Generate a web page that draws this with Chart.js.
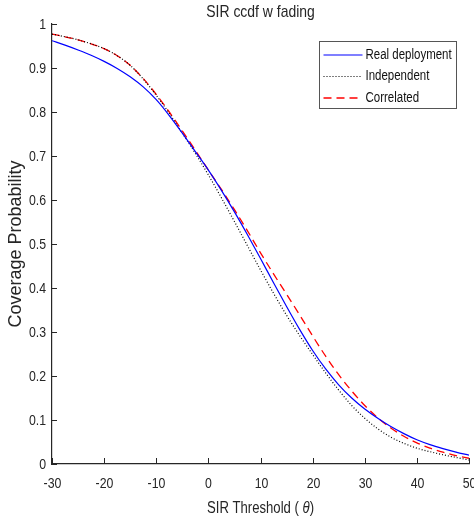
<!DOCTYPE html>
<html>
<head>
<meta charset="utf-8">
<title>SIR ccdf w fading</title>
<script src="https://cdn.jsdelivr.net/npm/chart.js@4.4.0/dist/chart.umd.min.js"></script>
<style>
    html, body { margin: 0; padding: 0; background: #fff; }
</style>
</head>
<body>
<canvas id="ccdfChart" width="474" height="525"></canvas>
<script>
// SIR threshold (dB) sample points
const thresholds = [
    -30, -27.5, -25, -22.5, -20, -17.5, -15, -12.5, -10, -7.5, -5, -2.5,
    0, 2.5, 5, 7.5, 10, 12.5, 15, 17.5, 20, 22.5, 25, 27.5,
    30, 32.5, 35, 37.5, 40, 42.5, 45, 47.5, 50
];

// Coverage probability for each model
const realDeployment = [
    0.962, 0.952, 0.941, 0.929, 0.915, 0.899, 0.880, 0.857, 0.828, 0.792, 0.752, 0.710,
    0.668, 0.622, 0.573, 0.521, 0.467, 0.412, 0.358, 0.306, 0.258, 0.216, 0.180, 0.150,
    0.125, 0.104, 0.085, 0.069, 0.055, 0.044, 0.035, 0.027, 0.020
];
const independent = [
    0.977, 0.971, 0.964, 0.955, 0.944, 0.928, 0.906, 0.875, 0.838, 0.797, 0.752, 0.706,
    0.657, 0.605, 0.551, 0.496, 0.441, 0.388, 0.338, 0.292, 0.249, 0.207, 0.168, 0.133,
    0.104, 0.080, 0.061, 0.047, 0.036, 0.028, 0.021, 0.015, 0.009
];
const correlated = [
    0.977, 0.971, 0.964, 0.955, 0.944, 0.928, 0.906, 0.876, 0.840, 0.800, 0.757, 0.713,
    0.668, 0.624, 0.578, 0.530, 0.480, 0.432, 0.386, 0.339, 0.291, 0.245, 0.203, 0.166,
    0.133, 0.105, 0.082, 0.063, 0.048, 0.036, 0.027, 0.019, 0.013
];

const seriesNames = ['Real deployment', 'Independent', 'Correlated'];
const xTicks = [-30, -20, -10, 0, 10, 20, 30, 40, 50];
const yTicks = [0, 0.1, 0.2, 0.3, 0.4, 0.5, 0.6, 0.7, 0.8, 0.9, 1];

const plainFont = "'Liberation Sans', Arial, sans-serif";
const inkColor = '#262626';
const squeeze = 0.82;   // horizontal text is drawn condensed

function toPoints(values) {
    return thresholds.map((x, i) => ({ x: x, y: values[i] }));
}

function narrowText(c, text, x, y, size, align, baseline, style) {
    c.save();
    c.font = (style ? style + ' ' : '') + size + 'px ' + plainFont;
    c.translate(x, y);
    c.scale(squeeze, 1);
    c.textAlign = align;
    c.textBaseline = baseline;
    c.fillText(text, 0, 0);
    c.restore();
}

function narrowWidth(c, text, size, style) {
    c.save();
    c.font = (style ? style + ' ' : '') + size + 'px ' + plainFont;
    const w = c.measureText(text).width * squeeze;
    c.restore();
    return w;
}

// title, tick labels, inward tick marks, x label with italic theta, boxed legend
const axisDecor = {
    id: 'axisDecor',
    afterDraw(chart) {
        const c = chart.ctx;
        const area = chart.chartArea;
        const xs = chart.scales.x;
        const ys = chart.scales.y;
        const midX = (area.left + area.right) / 2;

        c.save();
        c.fillStyle = inkColor;
        narrowText(c, 'SIR ccdf w fading', midX, 16.5, 17, 'center', 'alphabetic');

        c.strokeStyle = inkColor;
        c.lineWidth = 1;
        c.beginPath();
        xTicks.forEach(v => {
            const px = Math.round(xs.getPixelForValue(v)) + 0.5;
            c.moveTo(px, area.bottom);
            c.lineTo(px, area.bottom - 6);
            narrowText(c, String(v), px, area.bottom + 24, 15, 'center', 'alphabetic');
        });
        yTicks.forEach(v => {
            const py = Math.round(ys.getPixelForValue(v)) + 0.5;
            c.moveTo(area.left, py);
            c.lineTo(area.left + 5, py);
            narrowText(c, String(v), area.left - 6, py, 15, 'right', 'middle');
        });
        c.stroke();

        // x axis label
        const parts = [
            { text: 'SIR Threshold ( ', style: '' },
            { text: 'θ', style: 'italic' },
            { text: ')', style: '' }
        ];
        let total = 0;
        parts.forEach(p => { p.w = narrowWidth(c, p.text, 16, p.style); total += p.w; });
        let tx = midX - total / 2;
        parts.forEach(p => {
            narrowText(c, p.text, tx, chart.height - 12, 16, 'left', 'alphabetic', p.style);
            tx += p.w;
        });

        // legend
        const boxW = 137, boxH = 67;
        const bx = area.right - 150 + 0.5, by = area.top + 17 + 0.5;
        c.fillStyle = '#fff';
        c.fillRect(bx, by, boxW, boxH);
        c.strokeStyle = '#555';
        c.lineWidth = 1;
        c.strokeRect(bx, by, boxW, boxH);

        chart.data.datasets.forEach((ds, i) => {
            const ry = by + 13.5 + i * 21.5;
            c.save();
            c.strokeStyle = ds.borderColor;
            c.lineWidth = ds.borderWidth;
            c.setLineDash(ds.borderDash || []);
            c.beginPath();
            c.moveTo(bx + 4, ry);
            c.lineTo(bx + 43, ry);
            c.stroke();
            c.restore();
            c.fillStyle = '#111';
            narrowText(c, ds.label, bx + 46, ry, 14, 'left', 'middle');
        });
        c.restore();
    }
};

const ctx = document.getElementById('ccdfChart').getContext('2d');

const data = {
    datasets: [
        {
            label: seriesNames[0],
            data: toPoints(realDeployment),
            borderColor: '#0000ff',
            borderWidth: 1.2,
            borderDash: []
        },
        {
            label: seriesNames[1],
            data: toPoints(independent),
            borderColor: '#000000',
            borderWidth: 1.2,
            borderDash: [1, 2]
        },
        {
            label: seriesNames[2],
            data: toPoints(correlated),
            borderColor: '#ff0000',
            borderWidth: 1.3,
            borderDash: [8, 5]
        }
    ]
};

const config = {
    type: 'line',
    data: data,
    options: {
        responsive: false,
        animation: false,
        devicePixelRatio: 1,
        elements: {
            point: { radius: 0 },
            line: { cubicInterpolationMode: 'monotone' }
        },
        layout: { padding: { top: 24, right: 5, bottom: 0, left: 0 } },
        plugins: {
            legend: { display: false },
            tooltip: { enabled: false },
            title: { display: false }
        },
        scales: {
            x: {
                type: 'linear',
                min: -30,
                max: 50,
                afterBuildTicks: scale => { scale.ticks = xTicks.map(v => ({ value: v })); },
                afterFit: scale => { scale.height = 61; scale.paddingLeft = 0; scale.paddingRight = 0; },
                grid: { display: false, drawTicks: false },
                border: { display: true, color: inkColor, width: 1.2 },
                ticks: { display: false }
            },
            y: {
                type: 'linear',
                min: 0,
                max: 1,
                afterBuildTicks: scale => { scale.ticks = yTicks.map(v => ({ value: v })); },
                afterFit: scale => { scale.width = 52; scale.paddingTop = 0; scale.paddingBottom = 0; },
                grid: { display: false, drawTicks: false },
                border: { display: true, color: inkColor, width: 1.2 },
                ticks: { display: false },
                title: {
                    display: true,
                    text: 'Coverage Probability',
                    color: inkColor,
                    font: { family: plainFont, size: 18 },
                    padding: { top: 5, bottom: 0 }
                }
            }
        }
    },
    plugins: [axisDecor]
};

new Chart(ctx, config);
</script>
</body>
</html>
